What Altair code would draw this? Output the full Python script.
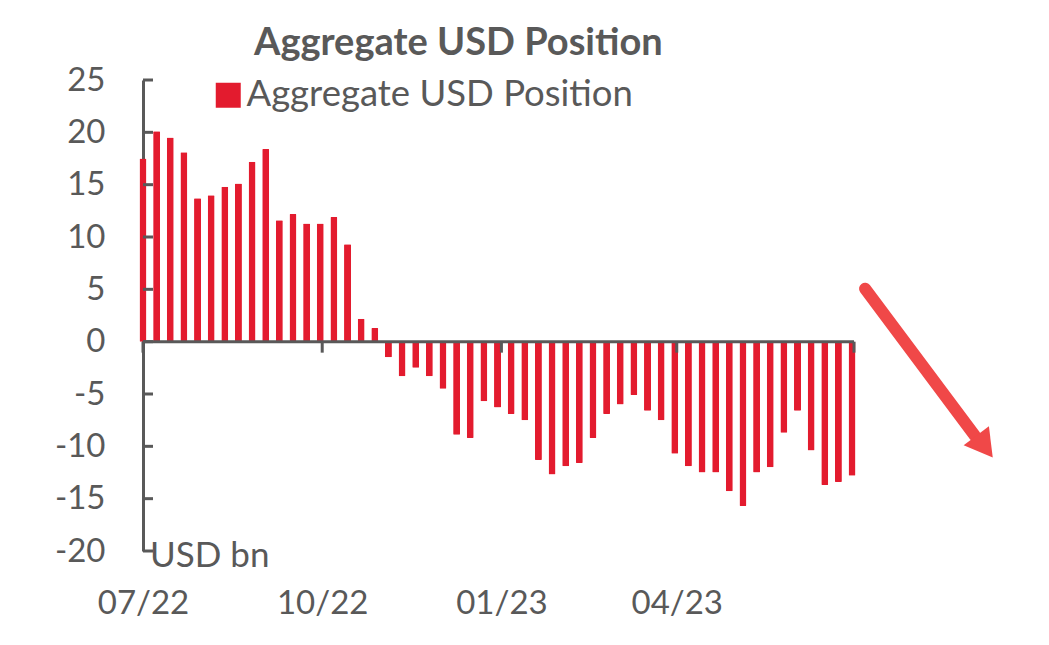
import altair as alt
import pandas as pd

# ---- data ----
series_name = "Aggregate USD Position"
values = [
    17.5, 20.1, 19.5, 18.1, 13.7, 14.0, 14.8, 15.1, 17.2, 18.4, 11.6, 12.2, 11.3, 11.3, 11.9, 9.3, 2.2, 1.3,
    -1.5, -3.3, -2.5, -3.3, -4.5, -8.9, -9.2, -5.7, -6.3, -6.9, -7.5, -11.3, -12.7, -11.9, -11.6, -9.2, -6.9, -6.0,
    -5.1, -6.6, -7.5, -10.7, -11.9, -12.5, -12.5, -14.3, -15.7, -12.5, -12.0, -8.7, -6.6, -10.4, -13.7, -13.4, -12.8,
]
week_dates = [d.strftime("%Y-%m-%dT00:00:00Z") for d in pd.date_range("2022-07-01", periods=len(values), freq="7D")]
quarter_dates = ["2022-07-01", "2022-10-01", "2023-01-01", "2023-04-01", "2023-07-01"]
labelled_quarters = quarter_dates[:4]
y_ticks = [-20, -15, -10, -5, 0, 5, 10, 15, 20, 25]
unit_label = "USD bn"
# annotation arrow (data coordinates)
arrow_dates = ["2023-07-06T16:00:00Z", "2023-09-01T00:00:00Z"]
arrow_values = [5.06, -8.98]
arrow_head_date = ["2023-09-06T00:00:00Z"]
arrow_head_value = [-10.03]

RED = "#E31B2E"
GRAY = "#595959"
ARROW = "#F04848"
FONT = "Lato"

df = pd.DataFrame({"date": week_dates, "value": values, "series": series_name})


def utc_dt(s):
    y, m, d = [int(p) for p in s.split("-")]
    return alt.DateTime(year=y, month=m, date=d, utc=True)


def iso(s):
    return s + "T00:00:00Z"


xscale = alt.Scale(type="utc", padding=0,
                   domain=[utc_dt(quarter_dates[0]), utc_dt(quarter_dates[-1])])
yscale = alt.Scale(domain=[-20, 25], nice=False, padding=0)

bars = alt.Chart(df).mark_bar(size=7, cornerRadius=1).encode(
    x=alt.X("date:T", scale=xscale,
            axis=alt.Axis(values=[utc_dt(q) for q in labelled_quarters],
                          labelExpr="utcFormat(datum.value, '%m/%y')",
                          ticks=False, domain=False, grid=False, labelFlush=False,
                          labelOverlap=False, labelPadding=36, labelFontSize=33,
                          labelColor=GRAY, labelFont=FONT, title=None)),
    y=alt.Y("value:Q", scale=yscale,
            axis=alt.Axis(values=y_ticks, ticks=False, grid=False, domainColor=GRAY,
                          domainWidth=3, labelPadding=38, labelFontSize=33, labelFlush=False,
                          labelExpr="toString(datum.value)",
                          labelColor=GRAY, labelFont=FONT, title=None)),
    color=alt.Color("series:N", scale=alt.Scale(range=[RED]),
                    legend=alt.Legend(title=None, orient="none", legendX=67, legendY=-3,
                                      symbolType="square", symbolSize=625, symbolStrokeWidth=0,
                                      symbolOpacity=1, labelFontSize=36.5, labelColor=GRAY,
                                      labelFont=FONT, labelLimit=600, labelOffset=0, padding=0)),
)

zero_df = pd.DataFrame({"start": [iso(quarter_dates[0])], "end": [iso(quarter_dates[-1])]})
zero_line = alt.Chart(zero_df).mark_rule(color=GRAY, strokeWidth=3).encode(
    x="start:T", x2="end:T", y=alt.datum(0)
)

q_df = pd.DataFrame({"q": [iso(q) for q in quarter_dates]})
q_ticks = alt.Chart(q_df).mark_rule(color=GRAY, strokeWidth=3).encode(
    x="q:T", y=alt.datum(0), y2=alt.datum(-1.05)
)

yt_df = pd.DataFrame({"t": y_ticks})
y_tick_marks = alt.Chart(yt_df).mark_rule(color=GRAY, strokeWidth=3).encode(
    y="t:Q", x=alt.value(0), x2=alt.value(10)
)

unit_df = pd.DataFrame({"label": [unit_label], "v": [-20]})
unit_text = alt.Chart(unit_df).mark_text(align="left", baseline="middle", fontSize=35,
                                         color=GRAY, font=FONT, dx=7, dy=5).encode(
    x=alt.value(0), y="v:Q", text="label:N"
)

arrow_df = pd.DataFrame({"d": arrow_dates, "v": arrow_values})
arrow_line = alt.Chart(arrow_df).mark_line(color=ARROW, strokeWidth=12, strokeCap="round").encode(
    x="d:T", y="v:Q"
)
head_df = pd.DataFrame({"d": arrow_head_date, "v": arrow_head_value})
arrow_head = alt.Chart(head_df).mark_point(shape="triangle-up", filled=True, size=1000,
                                           angle=143, color=ARROW, opacity=1, strokeWidth=0).encode(
    x="d:T", y="v:Q"
)

chart = alt.layer(bars, zero_line, q_ticks, y_tick_marks, unit_text, arrow_line, arrow_head).properties(
    width=711,
    height=471,
    background="white",
    title=alt.Title("Aggregate USD Position", fontSize=38, fontWeight="bold", color=GRAY, font=FONT,
                    anchor="start", dx=111, dy=51, offset=22, baseline="alphabetic", frame="group"),
    autosize=alt.AutoSizeParams(type="none"),
    padding={"left": 135, "top": 72, "right": 180, "bottom": 80},
).configure_view(stroke=None)

chart.save("out.html", embed_options={"renderer": "svg", "actions": False})
